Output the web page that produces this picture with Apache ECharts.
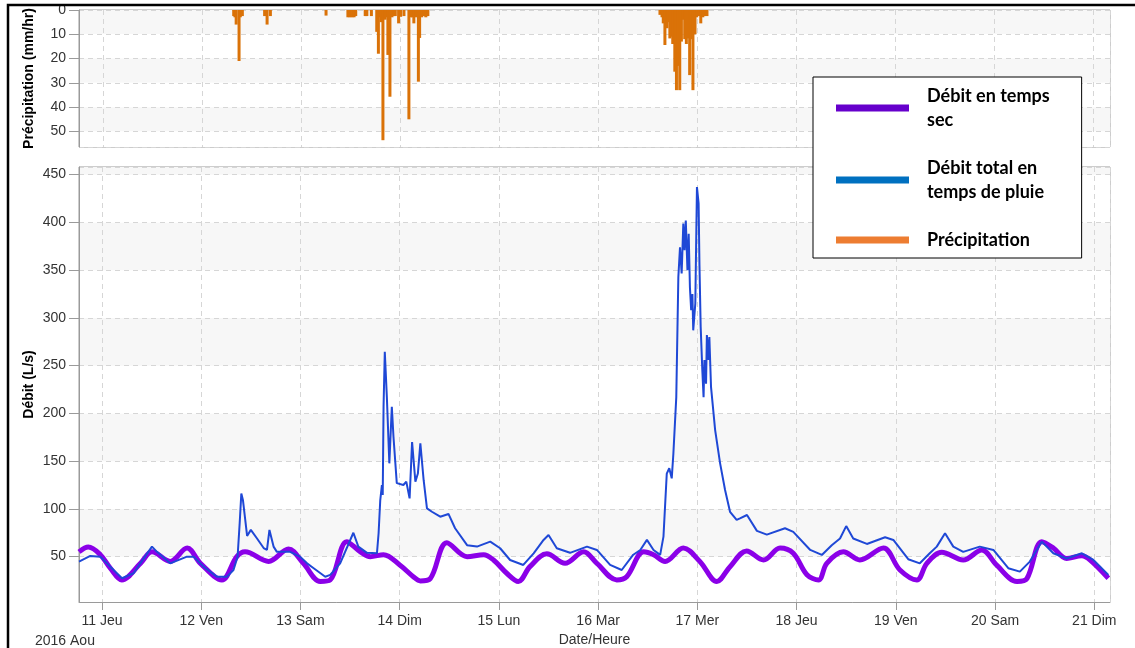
<!DOCTYPE html>
<html>
<head>
<meta charset="utf-8">
<script src="https://cdn.jsdelivr.net/npm/echarts@6/dist/echarts.min.js"></script>
<style>
html,body{margin:0;padding:0;background:#fff;}
#chart{width:1135px;height:648px;}
</style>
</head>
<body>
<div id="chart"></div>
<script>
// ---- DATA (hours counted from 2016-08-11 00:00) ----
const dayLabels = ['11 Jeu','12 Ven','13 Sam','14 Dim','15 Lun','16 Mar','17 Mer','18 Jeu','19 Ven','20 Sam','21 Dim'];
const seriesNames = ['Débit en temps sec','Débit total en temps de pluie','Précipitation'];
const legendLabels = ['Débit en temps\nsec','Débit total en\ntemps de pluie','Précipitation'];

const dryHours = [-5.56,-3.3,-0.4,2.0,4.8,9.3,12.1,16.5,20.6,23.8,29.0,32.6,34.6,40.3,45.1,48.7,52.8,55.2,59.2,62.5,64.9,68.1,72.1,75.3,77.0,79.4,83.4,88.3,92.3,94.7,97.9,100.7,103.5,107.6,112.0,116.5,119.7,124.5,126.9,131.0,133.4,136.2,140.6,144.6,148.7,151.9,155.9,160.0,164.0,167.2,170.5,173.3,175.3,179.3,183.3,189.0,193.0,197.1,199.5,203.1,208.3,212.8,216.4,221.3,223.7,227.3,230.1,233.3,237.0,239.0,243.4];
const dryValues = [55,60,52,38,25.6,43,55,45,59,43,25.6,50,55,45,58,43,24,25.6,65.7,55,50,52,41,29,24.6,27,64.6,50,52,46.5,32.6,24,39.5,53,43,55,43,25.6,29,55,52,45,59,45,24,39.5,56,46.5,59,53.5,31,25.6,43,55,46.5,59,36,25.6,43,54.6,46.5,57,41,24,27,65.7,59,48,51,46.5,27.4];

const wetHours = [-5.56,-2.83,-0.41,2.0,4.84,7.64,9.26,12.09,13.3,16.5,20.55,22.15,24.57,27.8,30.2,31.8,32.8,33.3,33.7,34.1,35.1,36.0,37.5,39.1,39.9,40.5,41.5,42.3,45.5,47.9,49.6,51.2,54.0,55.2,57.6,60.8,62.0,64.1,66.5,66.9,67.3,67.7,67.9,68.1,68.4,68.9,69.5,69.8,70.1,70.5,71.3,72.9,73.6,74.4,75.0,75.8,76.4,77.0,77.8,78.6,79.8,81.8,83.8,85.4,88.3,90.7,93.9,96.3,98.7,101.9,104.4,106.8,108.0,110.0,113.2,117.3,119.7,122.9,125.7,128.5,130.2,131.8,133.4,135.0,135.8,136.6,137.2,137.8,138.2,138.9,139.4,139.8,140.2,140.6,140.9,141.2,141.6,141.9,142.2,142.5,142.8,143.0,143.5,143.9,144.3,144.5,144.8,145.2,145.5,145.7,146.1,146.3,146.7,146.9,147.3,148.3,149.5,150.7,151.9,153.5,154.3,156.0,158.4,160.8,165.2,167.2,171.3,174.1,176.5,178.5,180.0,181.7,185.0,189.4,191.4,195.0,197.8,200.2,201.9,203.9,205.9,208.3,212.3,215.6,219.2,222.0,224.4,227.3,230.1,233.3,237.0,239.8,243.4];
const wetValues = [44.8,50.7,50,39.5,27.4,32.6,43,60.5,55,43,50,50,39.5,29,29,36,50,85,116,109,71.7,78,69,59,57,78,60.5,55,55,50,43,37.9,29,30.9,43,75,60.5,54,53.5,74.5,109,125,114.5,207,264.5,217,147.7,146,207,175.5,127,125,128.5,111,170,128.5,137,168.6,130,100.6,97,91.8,94.7,79.7,62,60.5,65.7,58.8,46.5,41.3,53.5,67.5,72.7,58.8,54,60.5,57,41.3,36,52,57,67.5,57,51.8,71,137,142.5,132,158,217,343,374,346.5,398.7,371,402,350,388,332,308,325,287,315,437,420,357,290.6,245,217,255.8,231,282,256,280,227.8,182.5,147.7,119.8,97,88.4,90,93.6,77,73,79.7,76,57,51.8,62,69,82,69,63.3,70.3,67.5,47.3,43,53.5,60.5,74.5,60.5,55,60.5,57,37.9,34.3,44.8,65.7,53.5,48,53.5,46.5,30.9];

const rainHours = [31.6,31.9,32.2,32.9,33.2,33.7,39.1,39.7,40.5,54.0,59.3,59.8,60.3,60.8,61.2,63.5,63.9,65.0,66.3,66.7,67.0,67.4,67.8,68.3,68.6,69.0,69.5,70.0,70.4,70.8,71.6,72.1,72.9,74.1,74.5,75.0,75.3,75.9,76.4,76.7,77.2,77.7,78.2,78.7,135.0,135.5,135.8,136.2,136.7,137.0,137.4,137.8,138.1,138.6,139.0,139.4,139.8,140.2,140.6,141.0,141.4,141.8,142.2,142.6,143.0,143.5,143.9,144.4,144.9,145.4,145.8,146.4];
const rainValues = [2.5,3,6,21,3,2.5,2.5,6,2.5,2.3,3,3,3,3,2.5,2.5,2.5,2.5,9,18,3,5,53.6,4,3,18.5,35.7,3,2.5,2.5,5.5,2.8,2.5,45,3,3,5.5,3,29.5,11.5,3,2.5,3,2.5,2,3,5.5,14.4,7.5,5,11.7,11,14,25.4,33,23,33,13,4,12,14,11.7,26.8,12,33,10,3,2.5,5.5,3,2.5,2.5];

// ---- BUILD ----
const HOUR = 3600 * 1000;
const base = new Date(2016, 7, 11, 0, 0, 0).getTime();
const xMin = base - 5.56 * HOUR;
const xMax = base + 243.8 * HOUR;
const toPts = (hs, vs) => hs.map((h, i) => [base + h * HOUR, vs[i]]);

const labelFont = {fontFamily: 'Liberation Sans, Arial, sans-serif', fontSize: 14, color: '#333'};
const dashed = {show: true, lineStyle: {color: '#d6d6d6', type: [5, 4], width: 1}};
const nameFont = {fontFamily: 'Liberation Sans, Arial, sans-serif', fontSize: 14, fontWeight: 'bold', color: '#000'};

function dayFormatter(v) {
  const d = new Date(v);
  if (d.getHours() !== 0 || d.getMinutes() !== 0) return '';
  const i = d.getDate() - 11;
  return dayLabels[i] || '';
}

const chart = echarts.init(document.getElementById('chart'), null, {renderer: 'canvas'});
chart.setOption({
  animation: false,
  backgroundColor: '#fff',
  grid: [
    {left: 79, right: 25, top: 10, height: 137, show: true, borderColor: '#9a9a9a', borderWidth: 1, containLabel: false, outerBoundsMode: 'none'},
    {left: 79, right: 25, top: 167, height: 435, show: true, borderColor: '#9a9a9a', borderWidth: 1, containLabel: false, outerBoundsMode: 'none'}
  ],
  xAxis: [
    {type: 'time', gridIndex: 0, min: xMin, max: xMax, minInterval: 24 * HOUR, maxInterval: 24 * HOUR,
      axisLine: {show: false}, axisTick: {show: false}, axisLabel: {show: false}, splitLine: dashed},
    {type: 'time', gridIndex: 1, min: xMin, max: xMax, minInterval: 24 * HOUR, maxInterval: 24 * HOUR,
      axisLine: {show: true, lineStyle: {color: '#9a9a9a'}},
      axisTick: {show: true, length: 8, lineStyle: {color: '#9a9a9a'}},
      axisLabel: Object.assign({margin: 12, formatter: dayFormatter, showMinLabel: false, showMaxLabel: false, hideOverlap: false}, labelFont),
      splitLine: dashed,
      name: 'Date/Heure', nameLocation: 'middle', nameGap: 31, nameMoveOverlap: false,
      nameTextStyle: {fontFamily: 'Liberation Sans, Arial, sans-serif', fontSize: 14, color: '#333'}}
  ],
  yAxis: [
    {type: 'value', gridIndex: 0, inverse: true, min: 0, max: 56.4, interval: 10,
      axisLine: {show: true, lineStyle: {color: '#9a9a9a'}},
      axisTick: {show: true, length: 10, lineStyle: {color: '#9a9a9a'}},
      axisLabel: Object.assign({margin: 13, showMaxLabel: false}, labelFont),
      splitLine: dashed,
      splitArea: {show: true, areaStyle: {color: ['#f7f7f7', '#ffffff']}},
      name: 'Précipitation (mm/hr)', nameLocation: 'middle', nameGap: 43, nameMoveOverlap: false,
      nameTextStyle: nameFont},
    {type: 'value', gridIndex: 1, min: 2.5, max: 458, splitNumber: 9,
      axisLine: {show: true, lineStyle: {color: '#9a9a9a'}},
      axisTick: {show: true, length: 10, lineStyle: {color: '#9a9a9a'}},
      axisLabel: Object.assign({margin: 13, showMinLabel: false, showMaxLabel: false}, labelFont),
      splitLine: dashed,
      splitArea: {show: true, areaStyle: {color: ['#ffffff', '#f7f7f7']}},
      name: 'Débit (L/s)', nameLocation: 'middle', nameGap: 43, nameMoveOverlap: false,
      nameTextStyle: nameFont}
  ],
  legend: {
    orient: 'vertical', left: 813, top: 77,
    selectedMode: false,
    backgroundColor: '#fff', borderColor: '#000', borderWidth: 1,
    padding: [7, 32, 6, 23],
    itemGap: 24, itemWidth: 73, itemHeight: 7,
    formatter: name => legendLabels[seriesNames.indexOf(name)],
    textStyle: {fontFamily: 'Lato, Open Sans, sans-serif', fontWeight: 'bold', fontSize: 18, lineHeight: 24, color: '#000', padding: [0, 0, 0, 13]},
    data: [
      {name: seriesNames[0], icon: 'rect', itemStyle: {color: '#6600cc'}},
      {name: seriesNames[1], icon: 'rect', itemStyle: {color: '#0070c0'}},
      {name: seriesNames[2], icon: 'rect', itemStyle: {color: '#ed7d31'}}
    ]
  },
  graphic: [
    {type: 'rect', shape: {x: 8, y: 5, width: 1300, height: 800}, style: {fill: 'none', stroke: '#000', lineWidth: 2.5}, silent: true, z: 100},
    {type: 'text', left: 35, top: 634, style: {text: '2016 Aou', fontFamily: 'Liberation Sans, Arial, sans-serif', fontSize: 14, fill: '#333'}}
  ],
  series: [
    {name: seriesNames[0], type: 'line', xAxisIndex: 1, yAxisIndex: 1, data: toPts(dryHours, dryValues),
      showSymbol: false, smooth: 0.35, lineStyle: {color: '#8b00e8', width: 5}, itemStyle: {color: '#8b00e8'}, z: 3},
    {name: seriesNames[1], type: 'line', xAxisIndex: 1, yAxisIndex: 1, data: toPts(wetHours, wetValues),
      showSymbol: false, smooth: false, lineStyle: {color: '#1f48d6', width: 2}, itemStyle: {color: '#1f48d6'}, z: 4},
    {name: seriesNames[2], type: 'bar', xAxisIndex: 0, yAxisIndex: 0, data: toPts(rainHours, rainValues),
      barWidth: 3, itemStyle: {color: '#da7208'}}
  ]
});
</script>
</body>
</html>
